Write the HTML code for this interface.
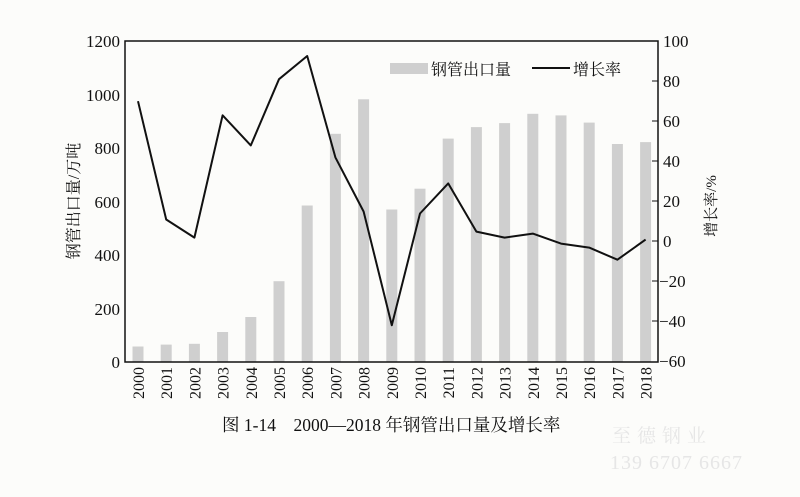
<!DOCTYPE html>
<html><head><meta charset="utf-8"><style>
body{margin:0;background:#fcfcfa;}
svg{display:block;font-family:"Liberation Serif","Noto Serif CJK SC",serif;}
</style></head><body>
<svg width="800" height="497" viewBox="0 0 800 497">
<rect width="800" height="497" fill="#fcfcfa"/>
<g fill="#cfcfcf">
<rect x="132.5" y="346.5" width="11" height="15.5"/>
<rect x="160.7" y="344.6" width="11" height="17.4"/>
<rect x="188.9" y="343.8" width="11" height="18.2"/>
<rect x="217.1" y="332" width="11" height="30"/>
<rect x="245.3" y="317" width="11" height="45"/>
<rect x="273.5" y="281.2" width="11" height="80.8"/>
<rect x="301.7" y="205.5" width="11" height="156.5"/>
<rect x="329.9" y="133.8" width="11" height="228.2"/>
<rect x="358.1" y="99.3" width="11" height="262.7"/>
<rect x="386.3" y="209.5" width="11" height="152.5"/>
<rect x="414.5" y="188.7" width="11" height="173.3"/>
<rect x="442.7" y="138.6" width="11" height="223.4"/>
<rect x="470.9" y="127.1" width="11" height="234.9"/>
<rect x="499.1" y="123.1" width="11" height="238.9"/>
<rect x="527.3" y="113.8" width="11" height="248.2"/>
<rect x="555.5" y="115.4" width="11" height="246.6"/>
<rect x="583.7" y="122.6" width="11" height="239.4"/>
<rect x="611.9" y="144" width="11" height="218"/>
<rect x="640.1" y="142.1" width="11" height="219.9"/>
</g>
<polyline fill="none" stroke="#111" stroke-width="2" stroke-linejoin="round" points="138,101.2 166.2,219.5 194.4,237.6 222.6,115.3 250.8,145.4 279,79.2 307.2,56 335.4,157.4 363.6,211.5 391.8,325.2 420,213.5 448.2,183.4 476.4,231.6 504.6,237.6 532.8,233.6 561,243.6 589.2,247.6 617.4,259.7 645.6,239.6"/>
<rect x="125" y="41" width="533" height="321" fill="none" stroke="#111" stroke-width="1.5"/>
<g stroke="#111" stroke-width="1">
<line x1="652" y1="81" x2="658" y2="81"/><line x1="652" y1="121" x2="658" y2="121"/><line x1="652" y1="161" x2="658" y2="161"/><line x1="652" y1="201" x2="658" y2="201"/><line x1="652" y1="241" x2="658" y2="241"/><line x1="652" y1="281" x2="658" y2="281"/><line x1="652" y1="321" x2="658" y2="321"/>
</g>
<g font-size="17" fill="#111" text-anchor="end">
<text x="120" y="47">1200</text><text x="120" y="101">1000</text><text x="120" y="154">800</text><text x="120" y="208">600</text><text x="120" y="261">400</text><text x="120" y="315">200</text><text x="120" y="368">0</text>
</g>
<g font-size="17" fill="#111">
<text x="663" y="47">100</text><text x="663" y="87">80</text><text x="663" y="127">60</text><text x="663" y="167">40</text><text x="663" y="207">20</text><text x="663" y="247">0</text><text x="659" y="287">−20</text><text x="659" y="327">−40</text><text x="659" y="367">−60</text>
</g>
<g font-size="16" fill="#111" text-anchor="end">
<text transform="translate(144,367) rotate(-90)">2000</text>
<text transform="translate(172.2,367) rotate(-90)">2001</text>
<text transform="translate(200.4,367) rotate(-90)">2002</text>
<text transform="translate(228.6,367) rotate(-90)">2003</text>
<text transform="translate(256.8,367) rotate(-90)">2004</text>
<text transform="translate(285,367) rotate(-90)">2005</text>
<text transform="translate(313.2,367) rotate(-90)">2006</text>
<text transform="translate(341.4,367) rotate(-90)">2007</text>
<text transform="translate(369.6,367) rotate(-90)">2008</text>
<text transform="translate(397.8,367) rotate(-90)">2009</text>
<text transform="translate(426,367) rotate(-90)">2010</text>
<text transform="translate(454.2,367) rotate(-90)">2011</text>
<text transform="translate(482.4,367) rotate(-90)">2012</text>
<text transform="translate(510.6,367) rotate(-90)">2013</text>
<text transform="translate(538.8,367) rotate(-90)">2014</text>
<text transform="translate(567,367) rotate(-90)">2015</text>
<text transform="translate(595.2,367) rotate(-90)">2016</text>
<text transform="translate(623.4,367) rotate(-90)">2017</text>
<text transform="translate(651.6,367) rotate(-90)">2018</text>
</g>
<text transform="translate(79,201) rotate(-90)" font-size="16" fill="#111" text-anchor="middle">钢管出口量/万吨</text>
<text transform="translate(716,206) rotate(-90)" font-size="15" fill="#111" text-anchor="middle">增长率/%</text>
<rect x="390" y="63" width="38" height="11" fill="#cfcfcf"/>
<text x="431" y="75" font-size="16" fill="#111">钢管出口量</text>
<line x1="532" y1="68" x2="570" y2="68" stroke="#111" stroke-width="2"/>
<text x="573" y="75" font-size="16" fill="#111">增长率</text>
<text x="222" y="431" font-size="17.5" fill="#111" xml:space="preserve">图 1-14    2000—2018 年钢管出口量及增长率</text>
<text x="612" y="442" font-size="19" fill="#e6e6e6" letter-spacing="6">至德钢业</text>
<text x="610" y="469" font-size="20" fill="#e6e6e6" letter-spacing="1" xml:space="preserve">139 6707 6667</text>
</svg>
</body></html>
